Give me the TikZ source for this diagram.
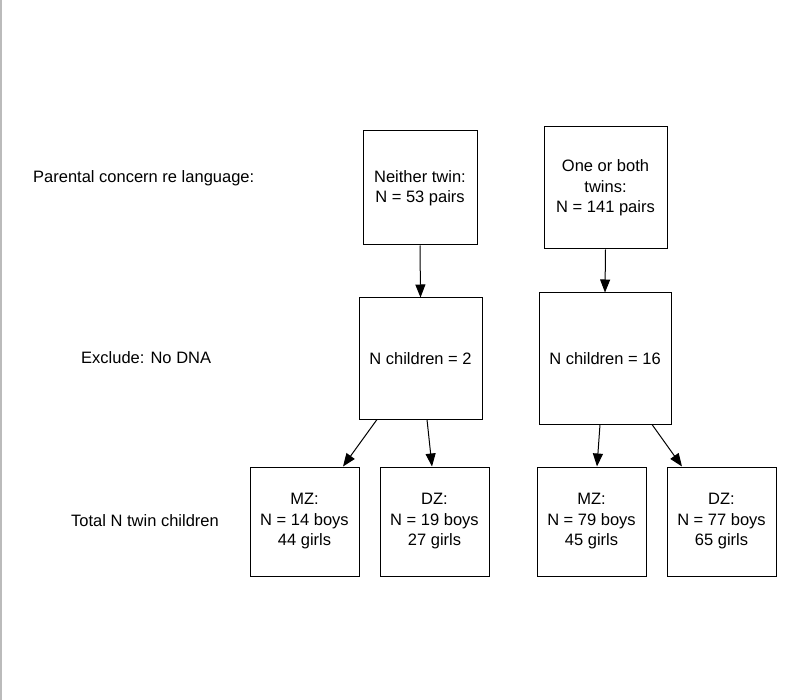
\documentclass[tikz,border=0pt]{standalone}
\usepackage{fontspec}
\setmainfont{Liberation Sans}
\usetikzlibrary{arrows.meta,calc}
\begin{document}
\begin{tikzpicture}[x=1pt,y=-1pt,
  box/.style={draw=black,line width=1pt,fill=white,align=center,inner sep=0pt,
    font=\fontsize{16.5}{20.5}\selectfont},
  lbl/.style={anchor=west,inner sep=0pt,font=\fontsize{16.5}{20.5}\selectfont},
  conn/.style={line width=1pt,-{Triangle[length=13pt,width=10pt]}}]
\useasboundingbox (0,0) rectangle (795,700);
\fill[white] (0,0) rectangle (795,700);
\draw[color={rgb,255:red,187;green,187;blue,187},line width=1.5pt] (0.75,0) -- (0.75,700);

\node[lbl] (l1) at (33,178) {Parental concern re language:};
\node[lbl] (l2) at (81,358) {Exclude: No DNA};
\node[lbl] (l3) at (71,521) {Total N twin children};

\node[box,minimum width=114pt,minimum height=114pt] (A) at (420,188) {Neither twin:\\N = 53 pairs};
\node[box,minimum width=123pt,minimum height=122pt] (B) at (605.5,188) {One or both\\twins:\\N = 141 pairs};
\node[box,minimum width=123pt,minimum height=121pt] (C) at (420.5,358.5) {N children = 2};
\node[box,minimum width=132pt,minimum height=131pt] (D) at (605,358.5) {N children = 16};

\node[box,minimum width=109pt,minimum height=109pt] (M1) at (304.5,521.5) {MZ:\\N = 14 boys\\44 girls};
\node[box,minimum width=109pt,minimum height=109pt] (D1) at (434.5,521.5) {DZ:\\N = 19 boys\\27 girls};
\node[box,minimum width=109pt,minimum height=109pt] (M2) at (591.5,521.5) {MZ:\\N = 79 boys\\45 girls};
\node[box,minimum width=109pt,minimum height=109pt] (D2) at (721.5,521.5) {DZ:\\N = 77 boys\\65 girls};

\draw[conn] (A.south) -- (C.north);
\draw[conn] (B.south) -- (D.north);
\draw[conn] ($(C.south)+(-43.5,0)$) -- ($(M1.north)+(38.5,0)$);
\draw[conn] ($(C.south)+(6.5,0)$) -- ($(D1.north)+(-2.5,0)$);
\draw[conn] ($(D.south)+(-5,0)$) -- ($(M2.north)+(5.5,0)$);
\draw[conn] ($(D.south)+(47,0)$) -- ($(D2.north)+(-39.5,0)$);
\end{tikzpicture}
\end{document}
